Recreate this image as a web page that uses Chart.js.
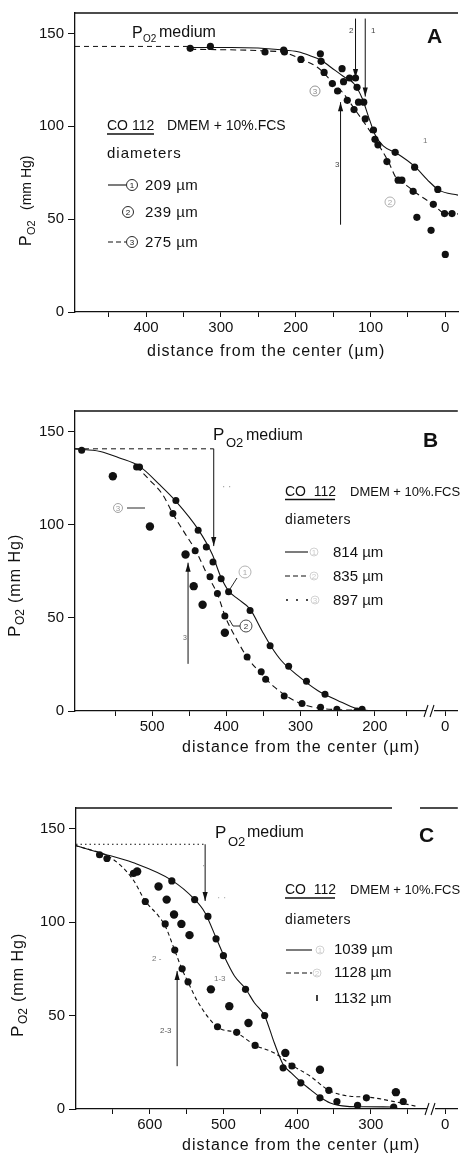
<!DOCTYPE html>
<html>
<head>
<meta charset="utf-8">
<script src="https://cdn.jsdelivr.net/npm/chart.js@4.4.1/dist/chart.umd.min.js"></script>
<style>
  html, body { margin: 0; padding: 0; background: #fff; }
  body { width: 462px; height: 1155px; position: relative; overflow: hidden; }
  canvas { position: absolute; left: 0; }
</style>
</head>
<body>
<canvas id="chartA" width="462" height="390" style="top:0"></canvas>
<canvas id="chartB" width="462" height="385" style="top:390px"></canvas>
<canvas id="chartC" width="462" height="380" style="top:775px"></canvas>
<script>
// ---------- panel A : CO 112, small spheroids ----------
const aDiameters = ['209 \u00b5m', '239 \u00b5m', '275 \u00b5m'];
const a1X = [216, 167, 138, 128, 120, 109, 96, 67, 41, 10];
const a1Y = [141, 139, 131, 126, 126, 113, 98, 86, 78, 66];
const a2X = [166, 151, 118, 116, 107, 94, 63, 38, 19, 0];
const a2Y = [135, 123, 121, 113, 104, 93, 71, 51, 44, 31];
const a3X = [341, 314, 241, 215, 193, 162, 144, 136, 131, 122, 90, 78, 58, 43, 16, 1, -9];
const a3Y = [142, 143, 140, 140, 136, 129, 119, 124, 114, 109, 90, 81, 71, 65, 58, 53, 53];
// fitted curves as drawn in the figure
const aFit1X = [341, 286, 215, 197, 180, 166, 153, 136, 122, 111, 102, 94, 83, 65, 41, 21, 8, -17];
const aFit1Y = [142.4, 142.4, 141.1, 140.1, 137.9, 135.6, 131.8, 126.8, 122.9, 115, 104.4, 95.6, 89.4, 85.5, 78.4, 70, 65.5, 62.9];
const aFit3X = [341, 242, 215, 193, 171, 153, 136, 122, 105, 91, 76, 65, 52, 38, 16, 1, -17];
const aFit3Y = [141.5, 140.6, 139.7, 136.2, 131.8, 124.7, 117.6, 109.7, 100, 91.2, 80.9, 71.7, 68.2, 63.8, 57.9, 53.2, 52.8];
const aMediumX = [495, 341];
const aMediumY = [143, 143];
const aXTicks = [450, 400, 350, 300, 250, 200, 150, 100, 50, 0];
const aXLabels = ['', '400', '', '300', '', '200', '', '100', '', '0'];

// ---------- panel B ----------
const bDiameters = ['814 \u00b5m', '835 \u00b5m', '897 \u00b5m'];
const b1X = [595, 517, 468, 438, 427, 418, 407, 397, 368, 341, 316, 292, 267, 217];
const b1Y = [140, 131, 113, 97, 88, 80, 71, 64, 54, 35, 24, 16, 9, 1];
const b2X = [521, 472, 442, 422, 412, 402, 372, 353, 347, 322, 298, 273, 251, 224];
const b2Y = [131, 106, 86, 72, 63, 51, 29, 21, 17, 8, 4, 2, 1, 0];
const b3X = [553, 503, 455, 444, 432, 402];
const b3Y = [126, 99, 84, 67, 57, 42];
const bFit1X = [604, 570, 544, 517, 490, 468, 438, 419, 408, 397, 384, 368, 352, 339, 326, 304, 277, 250, 224, 206];
const bFit1Y = [140.7, 139.3, 135.8, 131.3, 121.5, 112.6, 97.5, 84.1, 72.5, 64.5, 60, 54.7, 43.1, 34.2, 27.1, 19.1, 11, 5.7, 1.2, 0];
const bFit2X = [521, 504, 486, 472, 455, 441, 426, 412, 401, 390, 372, 355, 335, 317, 299, 277, 250, 224];
const bFit2Y = [131.3, 124.2, 116.2, 105.8, 94.8, 85.9, 73.4, 62.7, 50.2, 41.3, 28.9, 20.8, 12.8, 7.5, 3.9, 1.6, 0.7, 0.4];
const bMediumX = [604, 417];
const bMediumY = [140.7, 140.7];
const bXTicks = [550, 500, 450, 400, 350, 300, 250, 200, 157, 105];
const bXLabels = ['', '500', '', '400', '', '300', '', '200', '', '0'];

// ---------- panel C ----------
const cDiameters = ['1039 \u00b5m', '1128 \u00b5m', '1132 \u00b5m'];
const c1X = [622, 570, 539, 521, 510, 500, 470, 444, 419, 395, 369, 346, 318, 269];
const c1Y = [126, 122, 112, 103, 91, 82, 64, 50, 22, 14, 6, 4, 2, 1];
const c2X = [668, 658, 606, 579, 566, 556, 548, 508, 482, 457, 407, 357, 306, 256];
const c2Y = [136, 134, 111, 99, 85, 75, 68, 44, 41, 34, 23, 10, 6, 4];
const c3X = [617, 588, 577, 567, 557, 546, 517, 492, 466, 416, 369, 266];
const c3Y = [127, 119, 112, 104, 99, 93, 64, 55, 46, 30, 21, 9];
const cFit1X = [702, 668, 623, 570, 539, 525, 510, 500, 485, 470, 458, 444, 431, 419, 408, 395, 382, 369, 355, 332, 310, 270];
const cFit1Y = [141.1, 137.1, 131.8, 122.3, 112.1, 105, 91.6, 82.5, 71.1, 64.3, 56.8, 49.8, 35.4, 23.8, 19.3, 14.5, 10.4, 6.4, 3.2, 1.4, 1.2, 1.1];
const cFit2X = [702, 650, 623, 606, 588, 579, 566, 556, 548, 534, 508, 482, 457, 431, 407, 382, 357, 328, 306, 270, 238];
const cFit2Y = [141.1, 133.6, 122.9, 111.3, 103.2, 97.9, 84.8, 74.6, 67.9, 56.8, 43.8, 40.7, 34.1, 30, 23.4, 17.5, 10, 6.8, 6.4, 4.1, 1.4];
const cMediumX = [700, 525];
const cMediumY = [141.6, 141.6];
const cXTicks = [650, 600, 550, 500, 450, 400, 350, 300, 250, 199];
const cXLabels = ['', '600', '', '500', '', '400', '', '300', '', '0'];

const yTicks = [0, 50, 100, 150];

const INK = '#111';
const FAINT = '#a8a8a8';
const FONT = '"Liberation Sans", Arial, sans-serif';

const pts = (xs, ys) => xs.map((x, i) => ({ x, y: ys[i] }));

function txt(ctx, s, x, y, size, o = {}) {
  ctx.save();
  ctx.font = `${o.bold ? 'bold ' : ''}${size}px ${FONT}`;
  ctx.letterSpacing = (o.sp || 0) + 'px';
  ctx.fillStyle = o.color || INK;
  ctx.textAlign = o.align || 'left';
  ctx.textBaseline = 'alphabetic';
  ctx.fillText(s, x, y);
  ctx.restore();
}

function circled(ctx, x, y, n, color, r = 5.5) {
  ctx.save();
  ctx.strokeStyle = color; ctx.fillStyle = color; ctx.lineWidth = 0.9;
  ctx.setLineDash([]);
  ctx.beginPath(); ctx.arc(x, y, r, 0, Math.PI * 2); ctx.stroke();
  ctx.font = `8px ${FONT}`; ctx.textAlign = 'center'; ctx.textBaseline = 'middle';
  ctx.fillText(n, x, y + 0.5);
  ctx.restore();
}

function seg(ctx, x1, y1, x2, y2, w = 1, dash = []) {
  ctx.save();
  ctx.strokeStyle = INK; ctx.lineWidth = w; ctx.setLineDash(dash);
  ctx.beginPath(); ctx.moveTo(x1, y1); ctx.lineTo(x2, y2); ctx.stroke();
  ctx.restore();
}

// draws frame top, labels, legend, arrows and titles of one panel
function decor(d) {
  return {
    id: 'decor',
    afterDraw(chart) {
      const ctx = chart.ctx, a = chart.chartArea;
      const sx = chart.scales.x, sy = chart.scales.y;

      d.frame.forEach(([x1, x2]) => seg(ctx, x1 ?? a.left, a.top, x2 ?? a.right, a.top, 1.3));

      // P_O2 medium
      const m = d.medium;
      txt(ctx, 'P', m.px, m.py, m.pSize);
      txt(ctx, 'O2', m.sx, m.sy, m.sSize);
      txt(ctx, 'medium', m.mx, m.my, 16);

      txt(ctx, d.letter.t, d.letter.x, d.letter.y, 21, { bold: true });

      // arrows (data coordinates)
      d.arrows.forEach(ar => {
        const x = sx.getPixelForValue(ar.x);
        const y1 = sy.getPixelForValue(ar.from), y2 = sy.getPixelForValue(ar.to);
        seg(ctx, x, y1, x, y2, 1);
        const dir = Math.sign(y2 - y1);
        ctx.save(); ctx.fillStyle = INK;
        ctx.beginPath(); ctx.moveTo(x, y2); ctx.lineTo(x - 2.6, y2 - dir * 9); ctx.lineTo(x + 2.6, y2 - dir * 9);
        ctx.closePath(); ctx.fill(); ctx.restore();
      });

      // legend block
      const L = d.legend;
      txt(ctx, L.co, L.x, L.y, 14);
      seg(ctx, L.x, L.uy, L.x + L.uw, L.uy, 1.4);
      txt(ctx, 'DMEM + 10%.FCS', L.dx, L.y, L.dSize);
      txt(ctx, 'diameters', L.x, L.diamY, L.diamSize, { sp: L.diamSp });
      L.rows.forEach((r, i) => {
        if (r.style === 'solid') seg(ctx, r.x1, r.y, r.x2, r.y, 1.1);
        if (r.style === 'dashed') seg(ctx, r.x1, r.y, r.x2, r.y, 1.1, [5, 3]);
        if (r.style === 'dotted') {
          ctx.save(); ctx.fillStyle = INK;
          [r.x1, r.x1 + 10, r.x1 + 20].forEach(px => { ctx.beginPath(); ctx.arc(px, r.y, 1, 0, 7); ctx.fill(); });
          ctx.restore();
        }
        if (r.style === 'dot') seg(ctx, r.x1, r.y - 3, r.x1, r.y + 3, 1.6);
        if (r.num) circled(ctx, r.cx, r.y, r.num, r.numColor || INK, r.r || 5.5);
        txt(ctx, L.labels[i], L.tx, r.ty, 15, { sp: L.rowSp });
      });

      // small faint marks and labels
      d.notes.forEach(n => {
        if (n.circle) circled(ctx, n.x, n.y, n.t, n.color || FAINT, n.r || 5);
        else txt(ctx, n.t, n.x, n.y, n.size || 8, { color: n.color || '#444' });
      });
      d.lines.forEach(l => seg(ctx, l[0], l[1], l[2], l[3], 0.9));

      // axis break
      if (d.brk) {
        const by = a.bottom;
        ctx.save(); ctx.fillStyle = '#fff'; ctx.fillRect(d.brk.x - 1, by - 2, 8, 4); ctx.restore();
        seg(ctx, d.brk.x - 3, by + 6, d.brk.x + 1, by - 6, 1.1);
        seg(ctx, d.brk.x + 3, by + 6, d.brk.x + 7, by - 6, 1.1);
      }

      // y title with subscript
      const yt = d.yTitle;
      ctx.save();
      ctx.translate(yt.x, yt.y); ctx.rotate(-Math.PI / 2);
      txt(ctx, 'P', 0, 0, yt.pSize);
      txt(ctx, 'O2', yt.subAt, yt.subDy, yt.subSize);
      txt(ctx, '(mm Hg)', yt.restAt, 0, yt.restSize, { sp: yt.sp });
      ctx.restore();

      txt(ctx, 'distance from the center (\u00b5m)', d.xTitle.x, d.xTitle.y, 16, { sp: 1 });
    }
  };
}

function dots(xs, ys, r) {
  return { data: pts(xs, ys), showLine: false, pointRadius: r, pointBackgroundColor: INK, pointBorderWidth: 0 };
}
function curve(xs, ys, dash, w = 1.1) {
  return { data: pts(xs, ys), showLine: true, pointRadius: 0, borderColor: INK, borderWidth: w,
           borderDash: dash, cubicInterpolationMode: 'monotone', fill: false };
}

function buildChart(id, o) {
  return new Chart(document.getElementById(id), {
    type: 'scatter',
    data: { datasets: o.datasets },
    options: {
      responsive: false,
      animation: false,
      events: [],
      layout: { padding: { top: o.top, left: 0, right: 0, bottom: 0 } },
      plugins: { legend: { display: false }, tooltip: { enabled: false } },
      scales: {
        x: {
          type: 'linear', reverse: true, min: o.xMin, max: o.xMax,
          afterBuildTicks: s => { s.ticks = o.xTicks.map(v => ({ value: v })); },
          afterFit: s => { s.height = o.xAxisH; },
          ticks: { autoSkip: false, maxRotation: 0, minRotation: 0, padding: 2, color: INK,
                   font: { family: FONT, size: 15 }, callback: (v, i) => o.xLabels[i] },
          grid: { drawOnChartArea: false, drawTicks: true, tickLength: 5, color: INK, lineWidth: 1 },
          border: { display: true, color: INK, width: 1.3 }
        },
        y: {
          type: 'linear', min: 0, max: 161,
          afterBuildTicks: s => { s.ticks = yTicks.map(v => ({ value: v })); },
          afterFit: s => { s.width = o.yAxisW; },
          ticks: { padding: 4, color: INK, font: { family: FONT, size: 15 } },
          grid: { drawOnChartArea: false, drawTicks: true, tickLength: 7, color: INK, lineWidth: 1 },
          border: { display: true, color: INK, width: 1.3 }
        }
      }
    },
    plugins: [decor(o.decor)]
  });
}

// ---------- A ----------
buildChart('chartA', {
  top: 8, xAxisH: 78, yAxisW: 75, xMin: -17, xMax: 495,
  xTicks: aXTicks, xLabels: aXLabels,
  datasets: [
    dots(a1X, a1Y, 3.6), dots(a2X, a2Y, 3.6), dots(a3X, a3Y, 3.6),
    curve(aFit1X, aFit1Y, []), curve(aFit3X, aFit3Y, [6, 4]),
    curve(aMediumX, aMediumY, [5, 4], 1)
  ],
  decor: {
    frame: [[null, null]],
    medium: { px: 132, py: 38, pSize: 16, sx: 143, sy: 42, sSize: 10, mx: 159, my: 37 },
    letter: { t: 'A', x: 427, y: 43 },
    arrows: [{ x: 120, from: 158, to: 126 }, { x: 107, from: 158, to: 116 }, { x: 140, from: 47, to: 113 }],
    legend: {
      co: 'CO 112', x: 107, y: 130, uy: 134, uw: 47, dx: 167, dSize: 14,
      diamY: 158, diamSize: 15, diamSp: 1, tx: 145, rowSp: 0.5, labels: aDiameters,
      rows: [
        { style: 'solid', x1: 108, x2: 126, y: 185, cx: 132, num: '1', ty: 190 },
        { style: 'none', y: 212, cx: 128, num: '2', ty: 217 },
        { style: 'dashed', x1: 108, x2: 126, y: 242, cx: 132, num: '3', ty: 247 }
      ]
    },
    notes: [
      { t: '3', x: 315, y: 91, circle: true, color: '#888' },
      { t: '2', x: 390, y: 202, circle: true, color: FAINT },
      { t: '1', x: 423, y: 143, color: '#777' },
      { t: '2', x: 349, y: 33 }, { t: '1', x: 371, y: 33 }, { t: '3', x: 335, y: 167 }
    ],
    lines: [],
    yTitle: { x: 31, y: 246, pSize: 16, subAt: 11, subDy: 4, subSize: 11, restAt: 36, restSize: 14, sp: 0 },
    xTitle: { x: 147, y: 356 }
  }
});

// ---------- B ----------
buildChart('chartB', {
  top: 21, xAxisH: 64, yAxisW: 75, xMin: 88, xMax: 604,
  xTicks: bXTicks, xLabels: bXLabels,
  datasets: [
    dots(b1X, b1Y, 3.5), dots(b2X, b2Y, 3.5), dots(b3X, b3Y, 4.2),
    curve(bFit1X, bFit1Y, []), curve(bFit2X, bFit2Y, [6, 4]),
    curve(bMediumX, bMediumY, [5, 4], 1)
  ],
  decor: {
    frame: [[null, null]],
    medium: { px: 213, py: 50, pSize: 17, sx: 226, sy: 57, sSize: 13, mx: 246, my: 50 },
    letter: { t: 'B', x: 423, y: 57 },
    arrows: [{ x: 417, from: 140.7, to: 88.5 }, { x: 451.6, from: 25.3, to: 79.6 }],
    legend: {
      co: 'CO  112', x: 285, y: 106, uy: 109.5, uw: 50, dx: 350, dSize: 13,
      diamY: 134, diamSize: 14, diamSp: 0.5, tx: 333, rowSp: 0, labels: bDiameters,
      rows: [
        { style: 'solid', x1: 285, x2: 308, y: 162, cx: 314, num: '1', numColor: '#ccc', r: 4, ty: 167 },
        { style: 'dashed', x1: 285, x2: 308, y: 186, cx: 314, num: '2', numColor: '#ccc', r: 4, ty: 191 },
        { style: 'dotted', x1: 287, x2: 308, y: 210, cx: 315, num: '3', numColor: '#ccc', r: 4, ty: 215 }
      ]
    },
    notes: [
      { t: '3', x: 118, y: 118, circle: true, color: '#999', r: 4.5 },
      { t: '1', x: 245, y: 182, circle: true, color: '#aaa', r: 6 },
      { t: '2', x: 246, y: 236, circle: true, color: '#333', r: 6 },
      { t: '\u00b7 \u00b7', x: 222, y: 100, size: 10, color: '#999' },
      { t: '3', x: 183, y: 250, size: 7, color: '#666' }
    ],
    lines: [[127, 118, 145, 118], [237, 188, 230, 199], [240, 236, 233, 236], [233, 236, 229.5, 230]],
    brk: { x: 427 },
    yTitle: { x: 20, y: 247, pSize: 17, subAt: 12, subDy: 4, subSize: 12, restAt: 34, restSize: 16, sp: 1 },
    xTitle: { x: 182, y: 362 }
  }
});

// ---------- C ----------
buildChart('chartC', {
  top: 33, xAxisH: 46, yAxisW: 76, xMin: 182, xMax: 700,
  xTicks: cXTicks, xLabels: cXLabels,
  datasets: [
    dots(c1X, c1Y, 3.6), dots(c2X, c2Y, 3.6), dots(c3X, c3Y, 4.2),
    curve(cFit1X, cFit1Y, []), curve(cFit2X, cFit2Y, [4, 3]),
    curve(cMediumX, cMediumY, [1.5, 3], 1)
  ],
  decor: {
    frame: [[null, 392], [420, null]],
    medium: { px: 215, py: 63, pSize: 17, sx: 228, sy: 71, sSize: 13, mx: 247, my: 62 },
    letter: { t: 'C', x: 419, y: 67 },
    arrows: [{ x: 524.8, from: 141.6, to: 111.3 }, { x: 562.8, from: 22.9, to: 73.8 }],
    legend: {
      co: 'CO  112', x: 285, y: 119, uy: 123, uw: 50, dx: 350, dSize: 13,
      diamY: 149, diamSize: 14, diamSp: 0.5, tx: 334, rowSp: 0, labels: cDiameters,
      rows: [
        { style: 'solid', x1: 286, x2: 312, y: 175, cx: 320, num: '1', numColor: '#ccc', r: 4, ty: 179 },
        { style: 'dashed', x1: 286, x2: 312, y: 198, cx: 317, num: '2', numColor: '#ccc', r: 4, ty: 202 },
        { style: 'dot', x1: 317, y: 223, ty: 228 }
      ]
    },
    notes: [
      { t: '\u00b7', x: 202, y: 94, size: 10, color: '#999' },
      { t: '\u00b7 \u00b7', x: 217, y: 126, size: 10, color: '#aaa' },
      { t: '2 -', x: 152, y: 186, size: 8, color: '#777' },
      { t: '2-3', x: 160, y: 258, size: 8, color: '#555' },
      { t: '1-3', x: 214, y: 206, size: 8, color: '#777' }
    ],
    lines: [],
    brk: { x: 428 },
    yTitle: { x: 23, y: 262, pSize: 17, subAt: 13, subDy: 4, subSize: 12, restAt: 35, restSize: 16, sp: 1 },
    xTitle: { x: 182, y: 375 }
  }
});
</script>
</body>
</html>
